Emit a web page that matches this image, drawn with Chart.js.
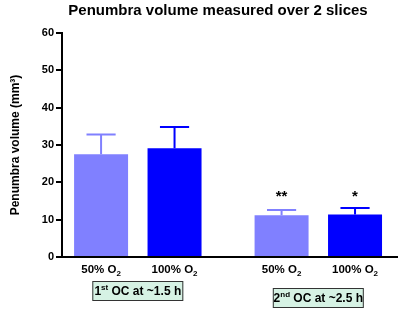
<!DOCTYPE html>
<html>
<head>
<meta charset="utf-8">
<script src="https://cdn.jsdelivr.net/npm/chart.js@4"></script>
<style>
  html, body { margin: 0; padding: 0; background: #fff; }
  #wrap { width: 400px; height: 310px; }
</style>
</head>
<body>
<div id="wrap"><canvas id="c" width="400" height="310"></canvas></div>
<script>
// data
const groups = ['1st OC at ~1.5 h', '2nd OC at ~2.5 h']
const groupX = [1, 2]
const series = ['50% O2', '100% O2']
const vals50 = [27.5, 11.2]
const vals100 = [29.1, 11.4]
const err50 = [5.3, 1.4]
const err100 = [5.7, 1.7]
const stars50 = ['', '**']
const stars100 = ['', '*']
const yTicks = [0, 10, 20, 30, 40, 50, 60]

const FONT = 'Arial, "Liberation Sans", sans-serif'
const colors = ['#8080ff', '#0000ff']

// draw text with a sub/superscript part, pieces = [[text, mode]]
function drawPieces(ctx, pieces, cx, cy, size) {
  const parts = pieces.map(([t, m]) => {
    const s = m ? Math.round(size * 0.7) : size
    ctx.font = 'bold ' + s + 'px ' + FONT
    return { t, m, s, w: ctx.measureText(t).width }
  })
  const total = parts.reduce((a, p) => a + p.w, 0)
  let x = cx - total / 2
  ctx.textAlign = 'left'
  ctx.textBaseline = 'middle'
  parts.forEach(p => {
    ctx.font = 'bold ' + p.s + 'px ' + FONT
    let dy = 0
    if (p.m === 'sub') dy = size * 0.3
    if (p.m === 'sup') dy = -size * 0.35
    ctx.fillText(p.t, x, cy + dy)
    x += p.w
  })
  return total
}

const extras = {
  id: 'extras',
  afterDatasetsDraw(chart) {
    const ctx = chart.ctx
    const y = chart.scales.y
    const errs = [err50, err100]
    const vals = [vals50, vals100]
    const stars = [stars50, stars100]
    ctx.save()
    // error bars
    chart.data.datasets.forEach((ds, di) => {
      const meta = chart.getDatasetMeta(di)
      meta.data.forEach((bar, i) => {
        const top = y.getPixelForValue(vals[di][i] + errs[di][i])
        const base = y.getPixelForValue(vals[di][i])
        const half = bar.width * 0.27
        ctx.strokeStyle = colors[di]
        ctx.lineWidth = 2
        ctx.beginPath()
        ctx.moveTo(bar.x, base)
        ctx.lineTo(bar.x, top)
        ctx.moveTo(bar.x - half, top)
        ctx.lineTo(bar.x + half, top)
        ctx.stroke()
        if (stars[di][i]) {
          ctx.fillStyle = '#000'
          ctx.font = 'bold 15px ' + FONT
          ctx.textAlign = 'center'
          ctx.textBaseline = 'middle'
          ctx.fillText(stars[di][i], bar.x, 197)
        }
        // category label under each bar
        ctx.fillStyle = '#000'
        const lab = series[di].split('O')
        drawPieces(ctx, [[lab[0] + 'O', ''], ['2', 'sub']], bar.x, 270, 11.5)
      })
    })
    // group boxes
    const boxY = [281, 288]
    const x = chart.scales.x
    groups.forEach((g, gi) => {
      const cx = x.getPixelForValue(groupX[gi])
      const m = g.match(/^(\d)(st|nd)(.*)$/)
      const pieces = [[m[1], ''], [m[2], 'sup'], [m[3], '']]
      const w = 91, h = 20
      ctx.fillStyle = '#d6f2e4'
      ctx.fillRect(cx - w / 2, boxY[gi], w, h)
      ctx.strokeStyle = '#333'
      ctx.lineWidth = 1
      ctx.strokeRect(cx - w / 2 + 0.5, boxY[gi] + 0.5, w - 1, h - 1)
      ctx.fillStyle = '#000'
      drawPieces(ctx, pieces, cx, boxY[gi] + h / 2 + 1, 12)
    })
    // title
    ctx.fillStyle = '#000'
    ctx.font = 'bold 15px ' + FONT
    ctx.textAlign = 'center'
    ctx.textBaseline = 'middle'
    ctx.fillText('Penumbra volume measured over 2 slices', 218, 11)
    ctx.restore()
  }
}

new Chart(document.getElementById('c'), {
  type: 'bar',
  data: {
    datasets: [
      { label: series[0], data: groupX.map((gx, i) => ({ x: gx, y: vals50[i] })), backgroundColor: colors[0] },
      { label: series[1], data: groupX.map((gx, i) => ({ x: gx, y: vals100[i] })), backgroundColor: colors[1] }
    ]
  },
  options: {
    responsive: false,
    animation: false,
    categoryPercentage: 0.814,
    barPercentage: 0.735,
    layout: { padding: { left: 0, top: 33, right: 3, bottom: 0 } },
    plugins: { legend: { display: false }, tooltip: { enabled: false }, title: { display: false } },
    scales: {
      x: {
        type: 'linear',
        offset: false,
        min: 0.58,
        max: 2.436,
        afterBuildTicks: s => { s.ticks = groupX.map(v => ({ value: v })) },
        afterFit: s => { s.height = 53 },
        ticks: { display: false },
        grid: { display: false, offset: false },
        border: { display: true, color: '#000', width: 2 }
      },
      y: {
        min: 0,
        max: 60,
        afterBuildTicks: s => { s.ticks = yTicks.map(v => ({ value: v })) },
        afterFit: s => { s.width = 62 },
        ticks: { color: '#000', font: { family: FONT, size: 11, weight: 'bold' }, padding: 2 },
        grid: { display: true, drawOnChartArea: false, drawTicks: true, tickLength: 6, color: '#000', lineWidth: 2 },
        border: { display: true, color: '#000', width: 2 },
        title: { display: true, text: 'Penumbra volume (mm³)', color: '#000', font: { family: FONT, size: 12, weight: 'bold' }, padding: { top: 8, bottom: 0 } }
      }
    }
  },
  plugins: [extras]
})
</script>
</body>
</html>
